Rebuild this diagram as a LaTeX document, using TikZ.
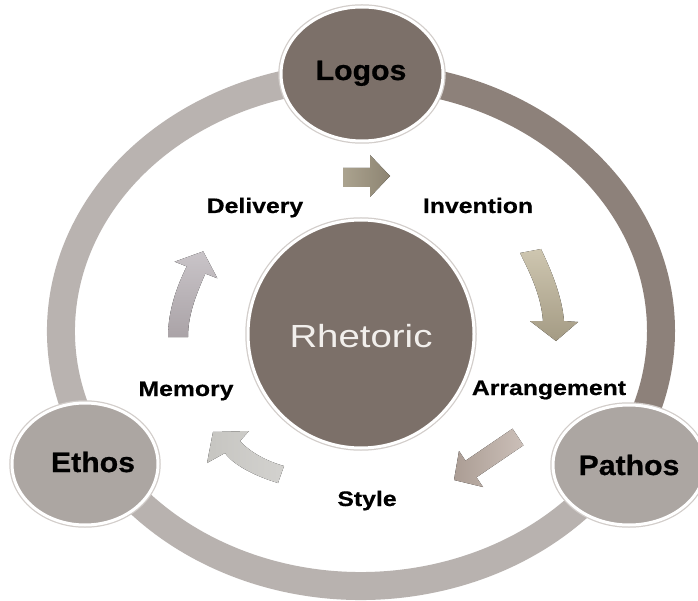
\documentclass[tikz,border=0pt]{standalone}
\usepackage{fontspec}
\setmainfont{Liberation Sans}
\newfontfamily\labfont[FakeStretch=1.18, BoldFeatures={FakeBold=0.6}]{Liberation Sans}
\newfontfamily\bigfont[FakeStretch=1.08, BoldFeatures={FakeBold=0.7}]{Liberation Sans}
\newfontfamily\rhfont[FakeStretch=1.2]{Liberation Sans}
\usetikzlibrary{shapes.geometric}
\definecolor{ringdark}{HTML}{8D817A}
\definecolor{ringleft}{HTML}{B9B3B0}
\definecolor{ringbottom}{HTML}{B8B2AF}
\definecolor{darkfill}{HTML}{7C7069}
\definecolor{lightfill}{HTML}{ACA6A2}
\definecolor{rimgray}{HTML}{D2CDCA}
\definecolor{rhtext}{HTML}{F2EFEC}
\definecolor{aoneA}{HTML}{ABA38F}
\definecolor{aoneB}{HTML}{8D8472}
\definecolor{atwoA}{HTML}{CEC6B0}
\definecolor{atwoB}{HTML}{A49B84}
\definecolor{athreeA}{HTML}{AB9D94}
\definecolor{athreeB}{HTML}{CBBFB8}
\definecolor{afourA}{HTML}{C6C5C1}
\definecolor{afourB}{HTML}{D3D2CF}
\definecolor{afiveA}{HTML}{C9C4C8}
\definecolor{afiveB}{HTML}{AAA3A7}
\tikzset{
  ringseg/.style={line width=28pt},
  bubble/.style={ellipse, inner sep=0pt, draw=white, line width=3pt,
    preaction={draw=rimgray, line width=5.5pt}},
  lab/.style={inner sep=0pt, anchor=base, font=\labfont\fontsize{21}{21}\selectfont\bfseries, text=black},
  big/.style={inner sep=0pt, anchor=base, font=\bigfont\fontsize{28}{28}\selectfont\bfseries, text=black}
}
\begin{document}
\begin{tikzpicture}[x=1pt,y=-1pt]
\fill[white] (0,0) rectangle (698,601);
\useasboundingbox (0,0) rectangle (698,601);
% ring
\draw[ringseg, draw=ringleft] (361,331) ++(150:300 and 255) arc[start angle=150,end angle=270,x radius=300,y radius=255];
\draw[ringseg, draw=ringbottom] (361,331) ++(30:300 and 255) arc[start angle=30,end angle=150,x radius=300,y radius=255];
\draw[ringseg, draw=ringdark] (361,331) ++(-90:300 and 255) arc[start angle=-90,end angle=30,x radius=300,y radius=255];
% outer bubbles
\node[bubble, fill=darkfill, minimum width=162pt, minimum height=134pt] (logos) at (362,74) {};
\node[bubble, fill=lightfill, minimum width=146pt, minimum height=122pt] (ethos) at (85,464) {};
\node[bubble, fill=lightfill, minimum width=152pt, minimum height=120pt] (pathos) at (629,465) {};
% centre
\node[bubble, fill=darkfill, minimum width=226pt, minimum height=228pt] (rhet) at (361,334) {};
% texts
\node[big] (tlogos) at (361,80) {Logos};
\node[big] (tethos) at (93,472) {Ethos};
\node[big] (tpathos) at (629,475) {Pathos};
\node[inner sep=0pt, anchor=base, text=rhtext, font=\rhfont\fontsize{32}{32}\selectfont] (trhet) at (361,347) {Rhetoric};
\node[lab] (deliv) at (255,213) {Delivery};
\node[lab] (invent) at (478,213) {Invention};
\node[lab] (arrange) at (549,395) {Arrangement};
\node[lab] (style) at (367,506) {Style};
\node[lab] (memory) at (186,396) {Memory};
% arrows
\fill[left color=aoneA, right color=aoneB]
  (343,168) -- (370,168) -- (370,155) -- (390,176) -- (370,197) -- (370,187) -- (343,187) -- cycle;
\fill[top color=atwoA, bottom color=atwoB]
  (520,253) .. controls (531,275) and (541,296) .. (543,321) -- (530,321) -- (556,341) -- (578,322) -- (564,321)
  .. controls (562,297) and (552,272) .. (541,249) -- cycle;
\fill[left color=athreeA, right color=athreeB]
  (512.5,428.7) -- (465.5,460.7) -- (459,451) -- (454,480) -- (483,487) -- (476.5,477.3) -- (523.5,445.3) -- cycle;
\fill[left color=afourA, right color=afourB]
  (213,432) -- (249,431) -- (240,441) .. controls (250,452) and (266,461) .. (284,466)
  -- (278,483) .. controls (258,477) and (234,466) .. (225,453) -- (207,463) -- cycle;
\fill[top color=afiveA, bottom color=afiveB]
  (168,337) .. controls (168,312) and (176,288) .. (186.7,266.4) -- (174.6,261.7) -- (203.2,251.4) -- (217.4,278.3) -- (205.3,273.6)
  .. controls (196,295) and (188,315) .. (188,337) -- cycle;
\end{tikzpicture}
\end{document}
